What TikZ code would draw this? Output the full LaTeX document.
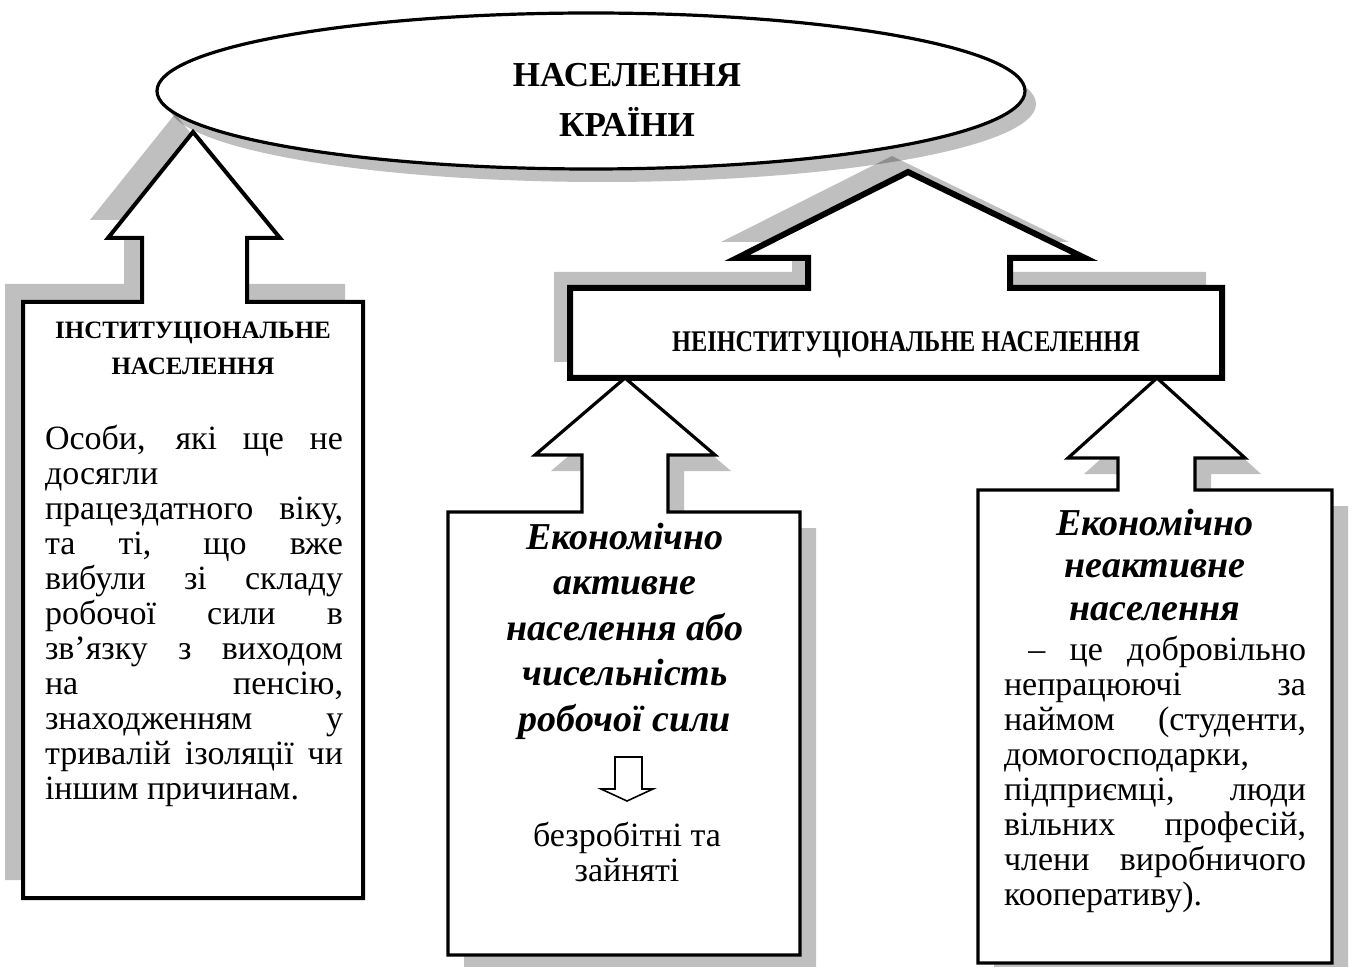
\documentclass[tikz,border=0pt]{standalone}
\usepackage{fontspec}
\setmainfont{Liberation Serif}
\usepackage{graphicx}
\usetikzlibrary{shapes.geometric}

\setlength{\parindent}{0pt}
\hyphenpenalty=10000
\exhyphenpenalty=10000
\tolerance=10000

\tikzset{
	outline/.style={draw=black, fill=white, line join=miter},
	shadowfill/.style={fill=black, opacity=0.25},
	titletext/.style={font=\fontsize{17.5}{25}\selectfont\bfseries, align=center},
	headtext/.style={font=\fontsize{12.5}{18}\selectfont\bfseries, align=center},
	emtext/.style={font=\fontsize{19}{22.75}\selectfont\bfseries\itshape, align=center},
	plaintext/.style={font=\fontsize{17}{17.5}\selectfont, align=center},
	bodytext/.style={font=\fontsize{17}{17.5}\selectfont, align=justify, text width=149pt, inner sep=0pt}
}

\newcommand{\instpath}{(23,302) -- (142,302) -- (142,238) -- (108,238) -- (193,132) -- (280,238) -- (247,238) -- (247,302) -- (363,302) -- (363,898) -- (23,898) -- cycle}
\newcommand{\neinstpath}{(570,288) -- (808,288) -- (808,258) -- (737,258) -- (908,172) -- (1085,258) -- (1010,258) -- (1010,288) -- (1222,288) -- (1222,378) -- (570,378) -- cycle}
\newcommand{\activepath}{(448,512) -- (582,512) -- (582,455) -- (535,455) -- (625,378) -- (715,455) -- (668,455) -- (668,512) -- (800,512) -- (800,955) -- (448,955) -- cycle}
\newcommand{\inactivepath}{(978,490) -- (1118,490) -- (1118,458) -- (1068,458) -- (1157,378) -- (1245,458) -- (1195,458) -- (1195,490) -- (1332,490) -- (1332,963) -- (978,963) -- cycle}

\begin{document}
\begin{tikzpicture}[x=0.5pt, y=-0.5pt]
	\useasboundingbox (0,0) rectangle (1352,967);

	% population of the country
	\node[ellipse, shadowfill, minimum width=434pt, minimum height=78pt] (countryshadow) at (602,104) {};
	\node[ellipse, outline, line width=1.6pt, minimum width=434pt, minimum height=78pt] (country) at (591,91) {};
	\node[titletext] (countrylabel) at (627,100) {НАСЕЛЕННЯ\\КРАЇНИ};

	% institutional
	\fill[shadowfill, shift={(-18,-18)}] \instpath;
	\path[outline, line width=2pt] \instpath;
	\node[headtext] (insthead) at (193,348) {ІНСТИТУЦІОНАЛЬНЕ\\НАСЕЛЕННЯ};
	\node[bodytext] (instbody) at (194,616) {Особи, які ще не\linebreak
		досягли\newline
		працездатного віку,\linebreak
		та ті, що вже\linebreak
		вибули зі складу\linebreak
		робочої сили в\linebreak
		зв’язку з виходом\linebreak
		на пенсію,\linebreak
		знаходженням у\linebreak
		тривалій ізоляції чи\linebreak
		іншим причинам.};

	% non-institutional
	\fill[shadowfill, shift={(-16,-16)}] \neinstpath;
	\path[outline, line width=3pt] \neinstpath;
	\node[font=\fontsize{15}{18}\selectfont\bfseries] (neinsthead) at (906,345) {\scalebox{0.81}[1]{НЕІНСТИТУЦІОНАЛЬНЕ НАСЕЛЕННЯ}};

	% active
	\fill[shadowfill, shift={(16,16)}] \activepath;
	\path[outline, line width=1.6pt] \activepath;
	\node[emtext] (activehead) at (625,631) {Економічно\\активне\\населення або\\чисельність\\робочої сили};
	\draw[line width=0.8pt, line join=miter] (615,757) -- (642,757) -- (642,789) -- (653,789) -- (627,801) -- (601,789) -- (615,789) -- cycle;
	\node[plaintext] (activesub) at (627,852) {безробітні та\\зайняті};

	% inactive
	\fill[shadowfill, shift={(16,16)}] \inactivepath;
	\path[outline, line width=1.6pt] \inactivepath;
	\node[emtext, font=\fontsize{19}{21.25}\selectfont\bfseries\itshape] (inactivehead) at (1155,565) {Економічно\\неактивне\\населення};
	\node[bodytext, text width=151pt] (inactivebody) at (1155,774) {\ – це добровільно\linebreak
		непрацюючі за\linebreak
		наймом (студенти,\linebreak
		домогосподарки,\newline
		підприємці, люди\linebreak
		вільних професій,\linebreak
		члени виробничого\linebreak
		кооперативу).};
\end{tikzpicture}
\end{document}
